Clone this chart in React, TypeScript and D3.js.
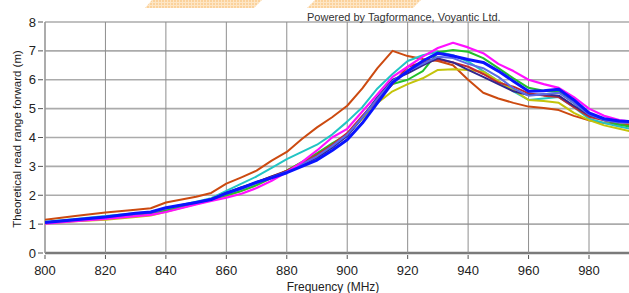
import React from "react";
import * as d3 from "d3";

const freqs = [800,810,820,830,835,840,850,855,860,865,870,875,880,885,890,895,900,905,910,915,920,925,930,935,940,945,950,955,960,965,970,975,980,985,990,995];

const orangeSeries = [1.15,1.28,1.4,1.5,1.55,1.75,1.95,2.08,2.4,2.62,2.85,3.2,3.5,3.95,4.35,4.7,5.1,5.7,6.4,7.0,6.82,6.72,6.65,6.5,6.0,5.55,5.35,5.2,5.07,5.02,4.95,4.75,4.6,4.5,4.45,4.42];
const cyanSeries = [1.08,1.18,1.28,1.38,1.42,1.55,1.78,1.9,2.15,2.4,2.65,2.95,3.25,3.5,3.75,4.1,4.55,5.05,5.7,6.2,6.65,6.85,6.97,6.85,6.63,6.3,5.95,5.6,5.3,5.35,5.4,5.05,4.65,4.5,4.38,4.28];
const yellowSeries = [1.02,1.1,1.15,1.25,1.3,1.43,1.7,1.83,1.98,2.15,2.35,2.6,2.85,3.15,3.45,3.75,4.1,4.65,5.2,5.6,5.85,6.05,6.34,6.36,6.34,6.28,5.95,5.65,5.3,5.26,5.2,4.85,4.6,4.42,4.3,4.18];
const greenSeries = [1.04,1.12,1.2,1.3,1.35,1.47,1.72,1.85,2.0,2.15,2.35,2.6,2.85,3.15,3.45,3.8,4.1,4.7,5.35,5.85,6.0,6.3,6.95,7.03,6.97,6.75,6.4,6.05,5.72,5.62,5.58,5.2,4.8,4.6,4.45,4.35];
const darkRedSeries = [1.06,1.15,1.24,1.36,1.4,1.55,1.75,1.86,2.08,2.25,2.45,2.65,2.85,3.1,3.4,3.75,4.15,4.75,5.3,5.85,6.45,6.6,6.7,6.6,6.45,6.2,5.9,5.76,5.53,5.45,5.4,5.05,4.72,4.6,4.52,4.5];
const navySeries = [1.06,1.15,1.24,1.36,1.4,1.55,1.75,1.86,2.08,2.28,2.45,2.65,2.82,3.05,3.3,3.65,4.05,4.7,5.4,6.0,6.22,6.5,6.74,6.6,6.34,6.1,5.85,5.6,5.47,5.5,5.45,5.1,4.78,4.62,4.55,4.55];
const periwinkleSeries = [1.05,1.14,1.23,1.35,1.4,1.54,1.74,1.85,2.05,2.22,2.42,2.62,2.82,3.08,3.35,3.7,4.1,4.7,5.35,5.95,6.3,6.55,6.8,6.75,6.55,6.4,6.1,5.7,5.45,5.5,5.55,5.2,4.8,4.6,4.52,4.5];
const magentaSeries = [1.02,1.1,1.18,1.28,1.32,1.42,1.68,1.8,1.92,2.05,2.25,2.5,2.8,3.15,3.55,4.0,4.3,4.9,5.5,6.1,6.45,6.8,7.1,7.28,7.12,6.92,6.55,6.3,6.0,5.85,5.72,5.4,5.0,4.75,4.6,4.53];
const blueSeries = [1.06,1.15,1.25,1.38,1.42,1.57,1.75,1.85,2.07,2.25,2.45,2.6,2.78,3.0,3.22,3.55,3.92,4.5,5.2,5.9,6.3,6.65,6.92,6.82,6.7,6.6,6.3,5.95,5.6,5.62,5.67,5.3,4.85,4.65,4.57,4.55];

const xTicks = [800,820,840,860,880,900,920,940,960,980];
const yTicks = [0,1,2,3,4,5,6,7,8];

const title = "Powered by Tagformance, Voyantic Ltd.";
const xLabel = "Frequency (MHz)";
const yLabel = "Theoretical read range forward (m)";

const seriesList = [
  { values: orangeSeries, color: "#cc4a10", width: 2 },
  { values: cyanSeries, color: "#22c4c4", width: 2 },
  { values: yellowSeries, color: "#c4c40a", width: 2 },
  { values: greenSeries, color: "#22c02a", width: 2 },
  { values: darkRedSeries, color: "#c42a30", width: 2 },
  { values: navySeries, color: "#32268e", width: 2 },
  { values: periwinkleSeries, color: "#5a6ae8", width: 2 },
  { values: magentaSeries, color: "#ff10ff", width: 2.2 },
  { values: blueSeries, color: "#0a14ff", width: 3 },
];

export default function App() {
  const W = 629, H = 293;
  const left = 45, right = 629, top = 22, bottom = 253;
  const x = d3.scaleLinear().domain([800, 980]).range([45, 589]);
  const y = d3.scaleLinear().domain([0, 8]).range([bottom, top]);
  const line = d3.line<number>().x((_, i) => x(freqs[i])).y((v) => y(v));
  const font = "'Liberation Sans', Arial, sans-serif";
  return (
    <>
      <style>{"body{margin:0}"}</style>
      <svg width={W} height={H} style={{ display: "block", background: "#fff" }}>
        <defs>
          <clipPath id="plot">
            <rect x={left} y={top - 2} width={right - left} height={bottom - top + 2} />
          </clipPath>
          <pattern id="dots" width="3" height="3" patternUnits="userSpaceOnUse">
            <rect width="3" height="3" fill="#fde6c6" />
            <rect width="2" height="2" fill="#fbd29c" />
          </pattern>
        </defs>
        <polygon points="145,8 152,0 262,0 254,8" fill="url(#dots)" />
        <polygon points="307,8 315,0 421,0 413,8" fill="url(#dots)" />
        {/* grid */}
        {yTicks.map((t) => (
          <line key={"gy" + t} x1={left} x2={right} y1={y(t)} y2={y(t)}
            stroke={t === 0 ? "#7a7a7a" : "#ababab"} strokeWidth={t === 0 ? 2.5 : 1.6} />
        ))}
        {xTicks.map((t) => (
          <line key={"gx" + t} x1={x(t)} x2={x(t)} y1={top} y2={bottom}
            stroke="#8e8e8e" strokeWidth={1} />
        ))}
        <line x1={left} x2={left} y1={top} y2={bottom} stroke="#9a9a9a" strokeWidth={1.2} />
        {/* ticks */}
        {yTicks.map((t) => (
          <g key={"ty" + t}>
            <line x1={38} x2={43} y1={y(t)} y2={y(t)} stroke="#555" strokeWidth={1} />
            <text x={36} y={y(t)} dy="0.35em" textAnchor="end" fontFamily={font} fontSize={13} fill="#222">{t}</text>
          </g>
        ))}
        {xTicks.map((t) => (
          <g key={"tx" + t}>
            <line x1={x(t)} x2={x(t)} y1={bottom + 2} y2={bottom + 6} stroke="#555" strokeWidth={1} />
            <text x={x(t)} y={275} textAnchor="middle" fontFamily={font} fontSize={13} fill="#222">{t}</text>
          </g>
        ))}
        {/* series */}
        <g clipPath="url(#plot)" fill="none" strokeLinejoin="round">
          {seriesList.map((s, i) => (
            <path key={i} d={line(s.values) || ""} stroke={s.color} strokeWidth={s.width} />
          ))}
        </g>
        <text x={307} y={21} fontFamily={font} fontSize={11} fill="#333">{title}</text>
        <text x={333} y={291} textAnchor="middle" fontFamily={font} fontSize={12} fill="#222">{xLabel}</text>
        <text transform="translate(21,139) rotate(-90)" textAnchor="middle" fontFamily={font} fontSize={11.5} fill="#222">{yLabel}</text>
      </svg>
    </>
  );
}
